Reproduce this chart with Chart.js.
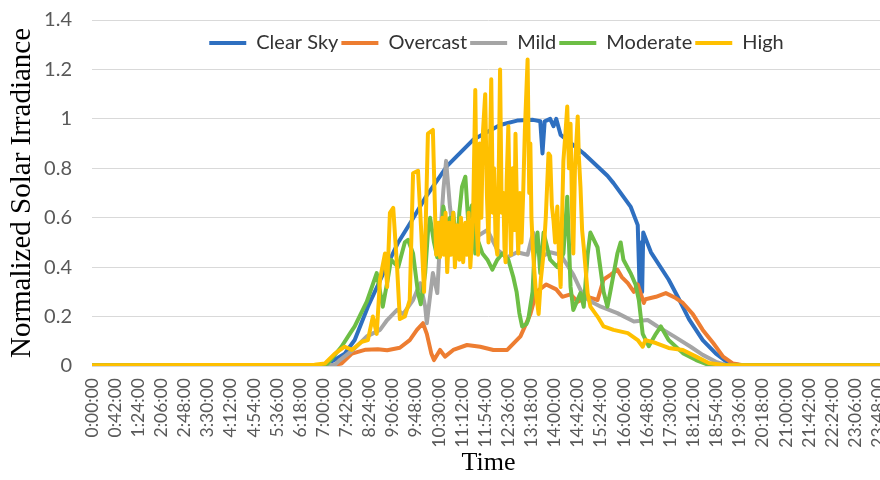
<!DOCTYPE html>
<html>
<head>
<meta charset="utf-8">
<title>Normalized Solar Irradiance</title>
<script src="https://cdn.jsdelivr.net/npm/chart.js@4/dist/chart.umd.min.js"></script>
<style>
  html, body { margin: 0; padding: 0; background: #ffffff; overflow: hidden; }
  canvas { display: block; }
</style>
</head>
<body>
<canvas id="irradiance" width="887" height="480"></canvas>
<script>
// Axis labels, one every 42 minutes
const tickLabels = [
  '0:00:00', '0:42:00', '1:24:00', '2:06:00', '2:48:00', '3:30:00', '4:12:00',
  '4:54:00', '5:36:00', '6:18:00', '7:00:00', '7:42:00', '8:24:00', '9:06:00',
  '9:48:00', '10:30:00', '11:12:00', '11:54:00', '12:36:00', '13:18:00', '14:00:00',
  '14:42:00', '15:24:00', '16:06:00', '16:48:00', '17:30:00', '18:12:00', '18:54:00',
  '19:36:00', '20:18:00', '21:00:00', '21:42:00', '22:24:00', '23:06:00', '23:48:00'
];

const seriesNames = ['Clear Sky', 'Overcast', 'Mild', 'Moderate', 'High'];

// [minute of day, normalized irradiance]
const clearSky = [
  [0, 0.003], [423, 0.005], [441, 0.025], [459, 0.05], [477, 0.105], [501, 0.24],
  [526, 0.36], [556, 0.50], [581, 0.59], [605, 0.68], [645, 0.81], [692, 0.915],
  [741, 0.975], [772, 0.993], [801, 0.996], [814, 0.99], [818, 0.86], [822, 0.99],
  [832, 1.0], [838, 0.97], [843, 1.0], [851, 0.935], [893, 0.86], [936, 0.77],
  [947, 0.74], [978, 0.645], [991, 0.57], [995, 0.27], [997, 0.50], [999, 0.30],
  [1001, 0.54], [1015, 0.46], [1047, 0.35], [1066, 0.27], [1084, 0.19], [1109, 0.105],
  [1133, 0.05], [1157, 0.01], [1179, 0.003], [1440, 0.003]
];

const overcast = [
  [0, 0.003], [441, 0.005], [453, 0.01], [472, 0.05], [497, 0.066], [519, 0.068],
  [536, 0.064], [559, 0.074], [577, 0.105], [590, 0.146], [601, 0.173], [608, 0.13],
  [616, 0.052], [621, 0.024], [632, 0.065], [641, 0.038], [656, 0.065], [681, 0.085],
  [705, 0.078], [729, 0.065], [754, 0.065], [778, 0.12], [796, 0.21], [807, 0.30],
  [825, 0.33], [843, 0.31], [854, 0.28], [869, 0.29], [882, 0.26], [900, 0.28],
  [918, 0.267], [929, 0.35], [942, 0.37], [954, 0.39], [962, 0.36], [973, 0.335],
  [984, 0.30], [991, 0.33], [1002, 0.255], [1005, 0.27], [1024, 0.28], [1042, 0.295],
  [1060, 0.275], [1073, 0.255], [1091, 0.21], [1109, 0.146], [1128, 0.093],
  [1146, 0.038], [1164, 0.01], [1182, 0.003], [1440, 0.003]
];

const mild = [
  [0, 0.003], [441, 0.005], [450, 0.024], [474, 0.065], [499, 0.12], [523, 0.146],
  [536, 0.186], [554, 0.227], [565, 0.21], [583, 0.267], [596, 0.335], [605, 0.24],
  [608, 0.173], [619, 0.376], [627, 0.295], [632, 0.51], [638, 0.71], [643, 0.83],
  [650, 0.645], [656, 0.54], [665, 0.45], [678, 0.48], [696, 0.52], [718, 0.55],
  [736, 0.47], [754, 0.44], [772, 0.46], [791, 0.45], [801, 0.54], [814, 0.44],
  [832, 0.46], [851, 0.45], [874, 0.37], [893, 0.28], [911, 0.255], [924, 0.24],
  [954, 0.214], [984, 0.18], [1009, 0.186], [1027, 0.16], [1057, 0.12], [1087, 0.078],
  [1109, 0.045], [1133, 0.017], [1151, 0.004], [1169, 0.003], [1440, 0.003]
];

const moderate = [
  [0, 0.003], [417, 0.003], [428, 0.01], [453, 0.078], [468, 0.13], [477, 0.16],
  [499, 0.26], [517, 0.376], [528, 0.24], [537, 0.35], [543, 0.43], [556, 0.40],
  [568, 0.50], [574, 0.51], [583, 0.455], [592, 0.295], [597, 0.25], [605, 0.376],
  [610, 0.54], [614, 0.60], [621, 0.50], [627, 0.44], [632, 0.58], [635, 0.47],
  [638, 0.645], [645, 0.56], [650, 0.60], [653, 0.50], [656, 0.62], [660, 0.52],
  [663, 0.48], [667, 0.62], [672, 0.726], [678, 0.766], [683, 0.59], [690, 0.65],
  [696, 0.455], [702, 0.50], [709, 0.455], [718, 0.43], [727, 0.39], [736, 0.43],
  [745, 0.455], [756, 0.43], [765, 0.36], [771, 0.30], [776, 0.214], [781, 0.16],
  [789, 0.17], [792, 0.186], [800, 0.30], [803, 0.44], [809, 0.54], [814, 0.376],
  [820, 0.54], [832, 0.43], [845, 0.40], [856, 0.455], [863, 0.685], [869, 0.32],
  [874, 0.227], [887, 0.295], [893, 0.24], [900, 0.45], [905, 0.54], [918, 0.48],
  [929, 0.30], [936, 0.24], [942, 0.31], [954, 0.455], [960, 0.50], [965, 0.43],
  [978, 0.376], [987, 0.33], [993, 0.267], [1000, 0.13], [1011, 0.08], [1024, 0.13],
  [1033, 0.16], [1047, 0.105], [1073, 0.052], [1097, 0.024], [1120, 0.004],
  [1142, 0.003], [1440, 0.003]
];

const high = [
  [0, 0.003], [404, 0.005], [423, 0.01], [441, 0.05], [459, 0.078], [472, 0.065],
  [490, 0.098], [501, 0.105], [510, 0.20], [517, 0.13], [523, 0.35], [532, 0.455],
  [536, 0.32], [541, 0.62], [547, 0.64], [554, 0.40], [559, 0.19], [568, 0.20],
  [577, 0.267], [583, 0.78], [592, 0.79], [598, 0.54], [603, 0.30], [610, 0.94],
  [619, 0.955], [625, 0.45], [629, 0.58], [632, 0.44], [636, 0.60], [639, 0.45],
  [642, 0.62], [645, 0.38], [649, 0.58], [652, 0.45], [656, 0.62], [659, 0.40],
  [663, 0.57], [667, 0.43], [670, 0.60], [674, 0.42], [678, 0.58], [681, 0.45],
  [684, 0.62], [687, 0.40], [692, 0.60], [696, 1.117], [699, 0.55], [701, 0.45],
  [704, 0.90], [707, 0.60], [710, 0.95], [714, 1.10], [717, 0.70], [720, 0.50],
  [723, 0.90], [725, 1.16], [728, 0.62], [730, 0.80], [733, 0.50], [736, 0.45],
  [739, 0.85], [741, 1.20], [744, 0.62], [747, 0.70], [749, 0.48], [751, 0.42],
  [753, 0.75], [756, 0.97], [759, 0.60], [761, 0.45], [764, 0.80], [767, 0.55],
  [769, 0.94], [772, 0.60], [774, 0.455], [777, 0.70], [780, 0.50], [783, 0.70],
  [786, 0.95], [791, 1.24], [794, 0.70], [796, 0.90], [798, 0.60], [801, 0.455],
  [806, 0.30], [811, 0.21], [815, 0.35], [820, 0.455], [824, 0.60], [829, 0.86],
  [832, 0.85], [835, 0.65], [838, 0.59], [841, 0.50], [845, 0.645], [848, 0.45],
  [851, 0.32], [853, 0.55], [856, 0.83], [860, 0.95], [863, 1.05], [866, 0.80],
  [869, 0.98], [872, 0.60], [874, 0.455], [877, 0.80], [882, 1.01], [884, 0.85],
  [887, 0.726], [890, 0.55], [893, 0.48], [900, 0.295], [905, 0.24], [918, 0.20],
  [929, 0.16], [947, 0.146], [973, 0.133], [991, 0.105], [1000, 0.078], [1005, 0.105],
  [1024, 0.093], [1047, 0.073], [1073, 0.065], [1097, 0.038], [1120, 0.012],
  [1146, 0.004], [1169, 0.003], [1440, 0.003]
];

const seriesData = [clearSky, overcast, mild, moderate, high];
const seriesColors = ['#2E6FC0', '#ED7D31', '#A5A5A5', '#6DBE45', '#FFC000'];

const toMinutes = (label) => {
  const [h, m] = label.split(':').map(Number);
  return h * 60 + m;
};

// Later series are painted over earlier ones
const datasets = seriesNames.map((name, i) => ({
  label: name,
  data: seriesData[i].map(([x, y]) => ({ x, y })),
  borderColor: seriesColors[i],
  backgroundColor: seriesColors[i],
  borderWidth: 4,
  pointRadius: 0,
  tension: 0,
  fill: false,
  borderJoinStyle: 'round',
  borderCapStyle: 'round',
  order: seriesNames.length - i
}));

// Place the legend inside the plot, just under the top gridline
const legendInPlot = {
  id: 'legendInPlot',
  beforeLayout(chart) {
    const lg = chart.legend;
    if (lg && !lg.__fitWrapped) {
      const fit = lg.fit;
      lg.fit = function () { fit.call(this); this.height = 0; };
      lg.__fitWrapped = true;
    }
  },
  afterLayout(chart) {
    const lg = chart.legend;
    const area = chart.chartArea;
    lg.left = area.left + 8;
    lg.right = area.right + 8;
    lg.width = lg.right - lg.left;
    lg.top = area.top + 10;
    lg.bottom = lg.top + 32;
    lg.height = 32;
  }
};

new Chart(document.getElementById('irradiance'), {
  type: 'line',
  data: { datasets },
  plugins: [legendInPlot],
  options: {
    responsive: false,
    animation: false,
    devicePixelRatio: 1,
    layout: { padding: { top: 20, right: 2, bottom: 0, left: 0 } },
    plugins: {
      tooltip: { enabled: false },
      legend: {
        display: true,
        position: 'top',
        labels: {
          boxWidth: 37,
          boxHeight: 4,
          padding: 3,
          color: '#333333',
          font: { family: 'Lato', size: 20 },
          sort: (a, b) => a.datasetIndex - b.datasetIndex,
          generateLabels: (chart) =>
            Chart.defaults.plugins.legend.labels.generateLabels(chart)
              .map((item) => ({ ...item, lineWidth: 0 }))
        }
      }
    },
    scales: {
      x: {
        type: 'linear',
        min: 0,
        max: 1440,
        afterBuildTicks(scale) {
          scale.ticks = tickLabels.map((t) => ({ value: toMinutes(t) }));
        },
        afterFit(scale) {
          scale.height = 114;
          scale.paddingLeft = 0;
          scale.paddingRight = 0;
        },
        ticks: {
          autoSkip: false,
          minRotation: 90,
          maxRotation: 90,
          padding: 12,
          color: '#595959',
          font: { family: 'Lato', size: 17.5 },
          callback: (value, index) => tickLabels[index]
        },
        grid: { display: false, drawTicks: false },
        border: { display: true, color: '#D9D9D9', width: 1 },
        title: {
          display: true,
          text: 'Time',
          color: '#000000',
          font: { family: 'Liberation Serif', size: 26 },
          padding: { top: 0, bottom: 1 }
        }
      },
      y: {
        min: 0,
        max: 1.4,
        afterFit(scale) {
          scale.width = 92;
          scale.paddingTop = 0;
          scale.paddingBottom = 0;
        },
        ticks: {
          stepSize: 0.2,
          padding: 20,
          color: '#595959',
          font: { family: 'Lato', size: 20 },
          callback: (value) => String(Number(value.toFixed(1)))
        },
        grid: { color: '#D9D9D9', lineWidth: 1, drawTicks: false },
        border: { display: false },
        title: {
          display: true,
          text: 'Normalized Solar Irradiance',
          color: '#000000',
          font: { family: 'Liberation Serif', size: 29 },
          padding: { top: 5, bottom: 0 }
        }
      }
    }
  }
});
</script>
</body>
</html>
